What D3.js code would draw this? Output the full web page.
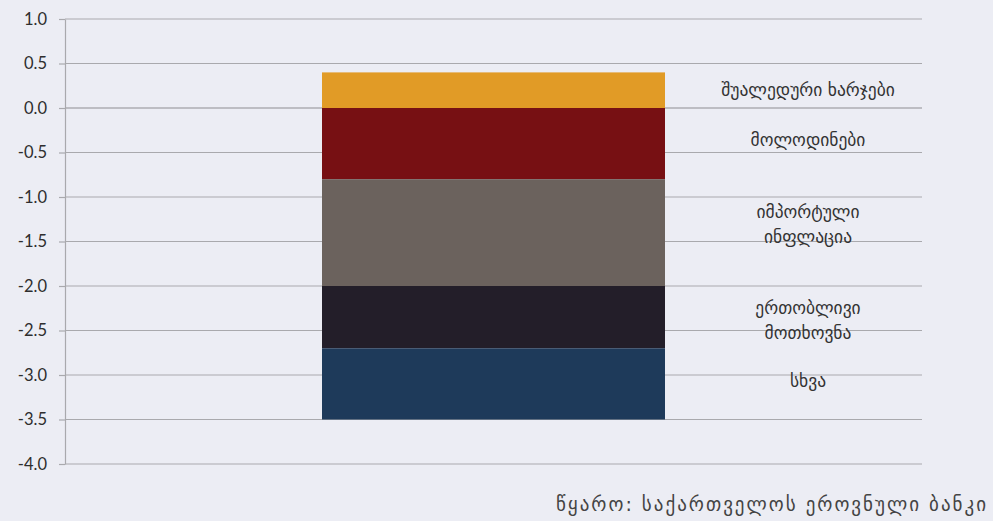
<!DOCTYPE html>
<html>
<head>
<meta charset="utf-8">
<script src="https://cdn.jsdelivr.net/npm/d3@7"></script>
<style>
  html, body { margin: 0; padding: 0; background: #ecedf4; }
  svg { display: block; }
</style>
</head>
<body>
<svg id="chart" width="993" height="521"></svg>
<script>
// Contributions to inflation, stacked in a single column
const components = ["შუალედური ხარჯები", "მოლოდინები", "იმპორტული ინფლაცია", "ერთობლივი მოთხოვნა", "სხვა"];
const values = [0.4, -0.8, -1.2, -0.7, -0.8];
const colors = ["#e19b26", "#771013", "#6b625d", "#231e29", "#1e3a5a"];
const labelLines = [["შუალედური ხარჯები"], ["მოლოდინები"], ["იმპორტული", "ინფლაცია"], ["ერთობლივი", "მოთხოვნა"], ["სხვა"]];
const yTicks = [1.0, 0.5, 0.0, -0.5, -1.0, -1.5, -2.0, -2.5, -3.0, -3.5, -4.0];
const sourceText = "წყარო: საქართველოს ეროვნული ბანკი";

const svg = d3.select("#chart");
const W = 993, H = 521;
svg.append("rect").attr("width", W).attr("height", H).attr("fill", "#ecedf4");

const plot = { left: 65, right: 922, top: 19, bottom: 464 };

const y = d3.scaleLinear().domain([-4, 1]).range([plot.bottom, plot.top]);

// gridlines
svg.append("g").selectAll("line").data(yTicks).join("line")
  .attr("x1", plot.left).attr("x2", plot.right)
  .attr("y1", d => y(d)).attr("y2", d => y(d))
  .attr("stroke", d => d === 0 ? "#bdbdc3" : "#a9a9ad")
  .attr("stroke-width", d => d === 0 ? 2 : 1.2);

// stacked segments: positives stack upward from 0, negatives downward
let pos = 0, neg = 0;
const segs = values.map((v, i) => {
  let y0, y1;
  if (v >= 0) { y0 = pos; y1 = pos + v; pos = y1; }
  else { y0 = neg; y1 = neg + v; neg = y1; }
  return { name: components[i], y0, y1, color: colors[i], lines: labelLines[i] };
});

const barX = 322, barW = 343;
svg.append("g").selectAll("rect").data(segs).join("rect")
  .attr("x", barX)
  .attr("width", barW)
  .attr("y", d => y(Math.max(d.y0, d.y1)))
  .attr("height", d => Math.abs(y(d.y0) - y(d.y1)))
  .attr("fill", d => d.color);

// y axis
const axis = d3.axisLeft(y).tickValues(yTicks).tickFormat(d3.format(".1f")).tickSize(6).tickSizeOuter(0);
const ag = svg.append("g").attr("transform", `translate(${plot.left},0)`).call(axis);
ag.select(".domain").attr("stroke", "#a9a9ad").attr("stroke-width", 1.2);
ag.selectAll(".tick line").attr("stroke", "#a9a9ad").attr("stroke-width", 1.2);
ag.selectAll(".tick text")
  .attr("x", -18)
  .attr("fill", "#2e2e2e")
  .style("font-family", "'Lato', 'DejaVu Sans', sans-serif")
  .style("font-size", "16.5px")
  .text(d => d3.format(".1f")(d).replace("−", "-"));

// segment labels to the right of the column, placed near each segment's middle
const labelX = 808;
const labelNudge = [0, -4, -8, 3, -3];
const lg = svg.append("g")
  .style("font-family", "'DejaVu Sans', sans-serif")
  .style("font-size", "17.5px")
  .attr("fill", "#333")
  .attr("text-anchor", "middle");
segs.forEach((s, i) => {
  const mid = (y(s.y0) + y(s.y1)) / 2 + labelNudge[i];
  const n = s.lines.length;
  const lh = 25;
  s.lines.forEach((t, j) => {
    lg.append("text")
      .attr("x", labelX)
      .attr("y", mid + (j - (n - 1) / 2) * lh)
      .attr("dy", "0.35em")
      .text(t);
  });
});

// source note
svg.append("text")
  .attr("x", 988).attr("y", 511)
  .attr("text-anchor", "end")
  .attr("fill", "#444")
  .style("font-family", "'DejaVu Sans', sans-serif")
  .style("font-size", "19px")
  .style("letter-spacing", "2px")
  .text(sourceText);
</script>
</body>
</html>
